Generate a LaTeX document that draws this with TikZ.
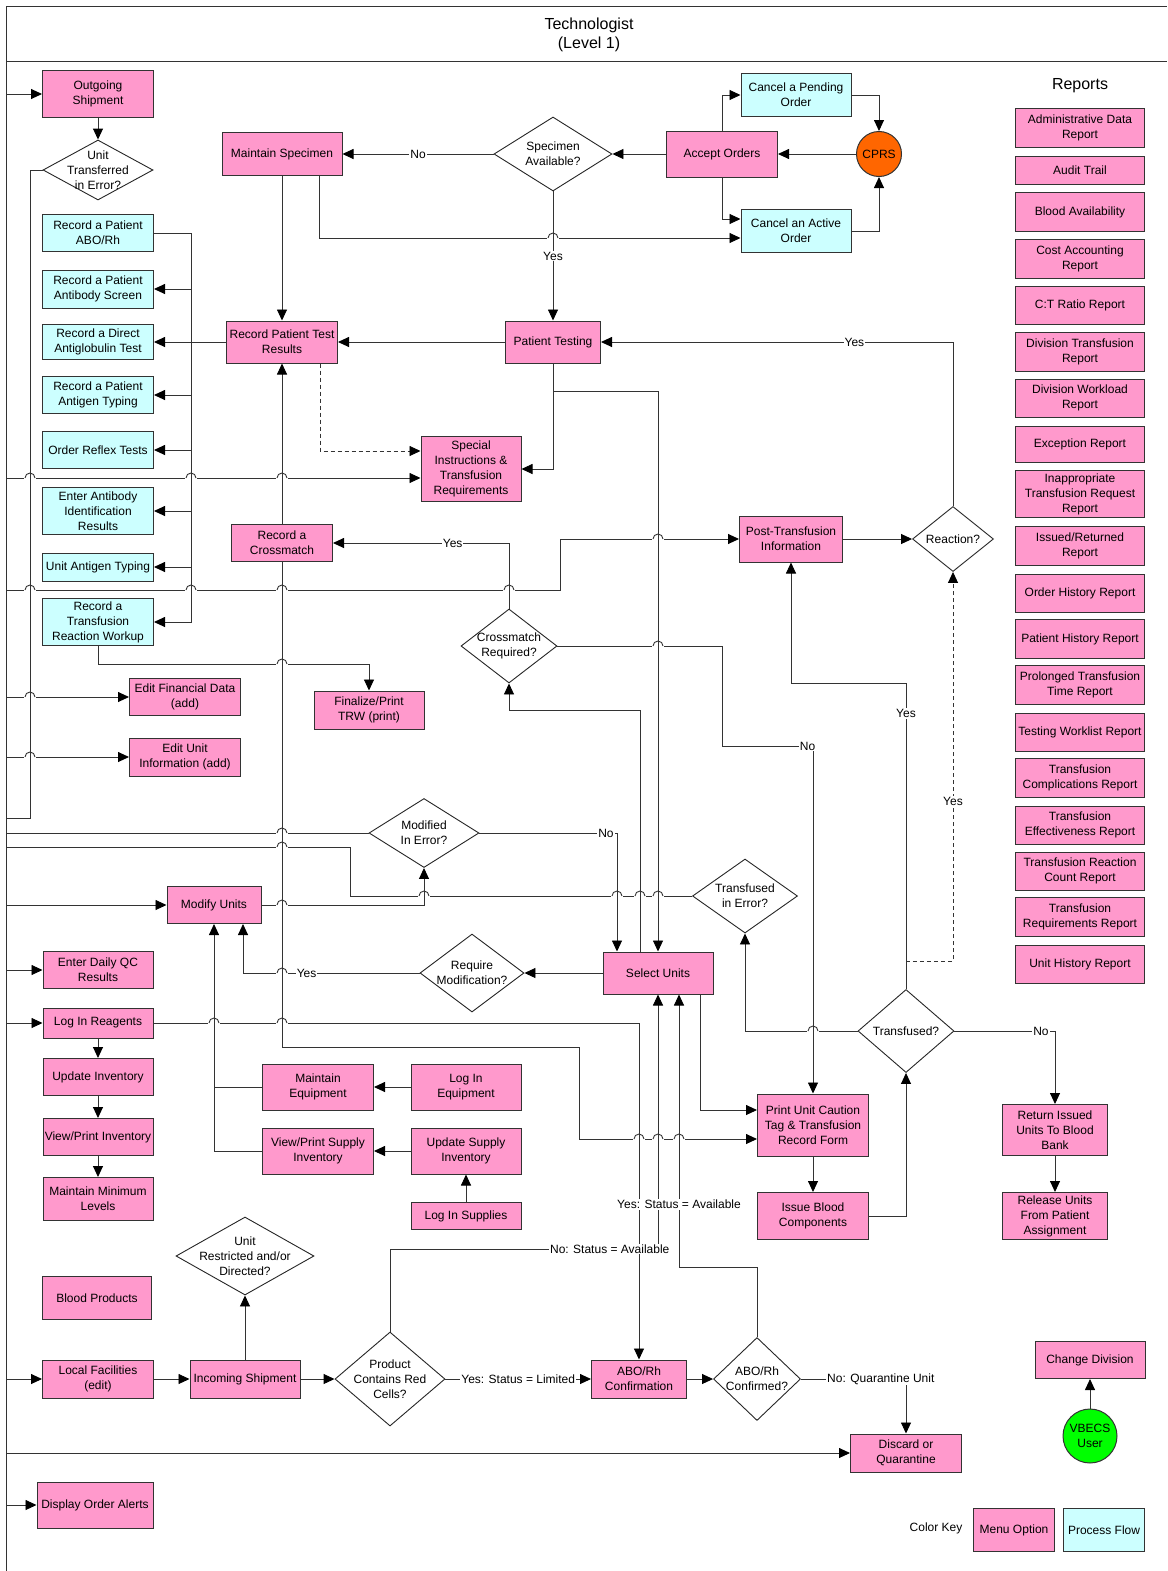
\documentclass[tikz,border=0pt]{standalone}
\usepackage{fontspec}
\setmainfont{Liberation Sans}
\usetikzlibrary{arrows.meta,shapes.geometric}
\definecolor{menupink}{HTML}{FF99CC}
\definecolor{flowcyan}{HTML}{CCFFFF}
\definecolor{cprsorange}{HTML}{FF6600}
\definecolor{usergreen}{HTML}{00FF00}
\newcommand\diagfont{\fontsize{12}{15}\selectfont}
\newcommand\headfont{\fontsize{16}{19}\selectfont}
\newcommand\hop[2]{%
  \fill[white] (#1-5.6,#2-1.3) rectangle (#1+5.6,#2+1.3);
  \draw[ln] (#1,#2-3) -- (#1,#2+3);
  \draw[ln] (#1-5,#2) arc[start angle=180,end angle=0,radius=5pt];}
\begin{document}
\begin{tikzpicture}[x=1pt,y=-1pt,font=\diagfont,
  menu/.style={draw=black!80,line width=1pt,fill=menupink,align=center,inner sep=1pt,minimum width=111,minimum height=38},
  flow/.style={menu,fill=flowcyan},
  rep/.style={menu,minimum width=129},
  dia/.style={diamond,draw=black!85,line width=.9pt,fill=white,inner sep=0pt},
  ln/.style={draw=black!80,line width=.9pt},
  arr/.style={ln,-{Triangle[length=11pt,width=10pt,color=black]}},
  lbl/.style={fill=white,inner sep=1pt}]
\useasboundingbox (0,0) rectangle (1167,1571);
\draw[ln] (6,1571) -- (6,6) -- (1167,6);
\draw[ln] (6,61) -- (1167,61);
\node[font=\headfont,align=center] (title) at (589,35) {Technologist\\(Level 1)};
\node[font=\headfont] (reports) at (1080,86) {Reports};

\node[menu,minimum height=46] (os) at (98,94) {Outgoing\\Shipment};
\node[dia,minimum width=110,minimum height=60,label={[align=center]center:Unit\\Transferred\\in Error?}] (ute) at (98,170) {};
\node[flow,minimum height=37] (rabo) at (98,233) {Record a Patient\\ABO/Rh};
\node[flow] (ras) at (98,289) {Record a Patient\\Antibody Screen};
\node[flow,minimum height=35] (rdat) at (98,342) {Record a Direct\\Antiglobulin Test};
\node[flow,minimum height=37] (rat) at (98,395) {Record a Patient\\Antigen Typing};
\node[flow,minimum height=37] (ort) at (98,450) {Order Reflex Tests};
\node[flow,minimum height=47] (eai) at (98,511) {Enter Antibody\\Identification\\Results};
\node[flow,minimum height=28] (uat) at (98,567) {Unit Antigen Typing};
\node[flow,minimum height=47] (trw) at (98,622) {Record a\\Transfusion\\Reaction Workup};

\node[menu,minimum width=120,minimum height=43] (ms) at (282,154) {Maintain Specimen};
\node[menu,minimum height=42] (rpt) at (282,342) {Record Patient Test\\Results};
\node[dia,minimum width=118,minimum height=74,label={[align=center]center:Specimen\\Available?}] (sa) at (553,154) {};
\node[menu,minimum height=46] (ao) at (722,154) {Accept Orders};
\node[flow,minimum width=110,minimum height=43] (cpo) at (796,95) {Cancel a Pending\\Order};
\node[flow,minimum width=110,minimum height=43] (cao) at (796,231) {Cancel an Active\\Order};
\node[circle,draw=black!80,line width=1pt,fill=cprsorange,minimum size=45,inner sep=0pt] (cprs) at (879,154) {CPRS};
\node[menu,minimum width=95,minimum height=42] (pt) at (553,342) {Patient Testing};
\node[menu,minimum width=100,minimum height=65] (si) at (471,469) {Special\\Instructions \&\\Transfusion\\Requirements};
\node[menu,minimum width=101,minimum height=37] (rxm) at (282,543) {Record a\\Crossmatch};
\node[menu,minimum width=103,minimum height=46] (pti) at (791,539) {Post-Transfusion\\Information};
\node[dia,minimum width=81,minimum height=65,label=center:Reaction?] (rea) at (953,539) {};
\node[dia,minimum width=96,minimum height=74,label={[align=center]center:Crossmatch\\Required?}] (xr) at (509,646) {};
\node[menu,minimum height=37] (efd) at (185,697) {Edit Financial Data\\(add)};
\node[menu,minimum height=38] (eui) at (185,757) {Edit Unit\\Information (add)};
\node[menu,minimum width=110,minimum height=38] (ftrw) at (369,710) {Finalize/Print\\TRW (print)};
\node[dia,minimum width=110,minimum height=69,label={[align=center]center:Modified\\In Error?}] (mie) at (424,833) {};
\node[dia,minimum width=105,minimum height=74,label={[align=center]center:Transfused\\in Error?}] (tie) at (745,896) {};
\node[menu,minimum width=94,minimum height=37] (mu) at (214,905) {Modify Units};
\node[dia,minimum width=104,minimum height=78,label={[align=center]center:Require\\Modification?}] (rm) at (472,973) {};
\node[menu,minimum width=110,minimum height=42] (su) at (658,973) {Select Units};

\node[menu,minimum width=110,minimum height=37] (qc) at (98,970) {Enter Daily QC\\Results};
\node[menu,minimum width=110,minimum height=30] (lir) at (98,1023) {Log In Reagents};
\node[menu,minimum width=110,minimum height=37] (ui) at (98,1077) {Update Inventory};
\node[menu,minimum width=110,minimum height=37] (vpi) at (98,1137) {View/Print Inventory};
\node[menu,minimum width=110,minimum height=43] (mml) at (98,1199) {Maintain Minimum\\Levels};
\node[menu,minimum height=46] (me) at (318,1087) {Maintain\\Equipment};
\node[menu,minimum height=46] (vpsi) at (318,1151) {View/Print Supply\\Inventory};
\node[menu,minimum width=110,minimum height=46] (lie) at (466,1087) {Log In\\Equipment};
\node[menu,minimum width=110,minimum height=46] (usi) at (466,1151) {Update Supply\\Inventory};
\node[menu,minimum width=110,minimum height=27] (lis) at (466,1216) {Log In Supplies};
\node[menu,minimum height=62] (puct) at (813,1125) {Print Unit Caution\\Tag \& Transfusion\\Record Form};
\node[menu,minimum height=47] (ibc) at (813,1216) {Issue Blood\\Components};
\node[dia,minimum width=96,minimum height=83,label=center:Transfused?] (tr) at (906,1031) {};
\node[menu,minimum width=105,minimum height=51] (rib) at (1055,1130) {Return Issued\\Units To Blood\\Bank};
\node[menu,minimum width=105,minimum height=47] (rup) at (1055,1216) {Release Units\\From Patient\\Assignment};

\node[dia,minimum width=138,minimum height=78,label={[align=center]center:Unit\\Restricted and/or\\Directed?}] (urd) at (245,1256) {};
\node[menu,minimum width=109,minimum height=43] (bp) at (97,1298) {Blood Products};
\node[menu,minimum height=38] (lf) at (98,1379) {Local Facilities\\(edit)};
\node[menu,minimum width=110,minimum height=38] (is) at (245,1379) {Incoming Shipment};
\node[dia,minimum width=110,minimum height=94,label={[align=center]center:Product\\Contains Red\\Cells?}] (pcr) at (390,1379) {};
\node[menu,minimum width=95,minimum height=38] (abc) at (639,1379) {ABO/Rh\\Confirmation};
\node[dia,minimum width=87,minimum height=83,label={[align=center]center:ABO/Rh\\Confirmed?}] (arq) at (757,1379) {};
\node[menu,minimum height=38] (dq) at (906,1453) {Discard or\\Quarantine};
\node[menu,minimum width=110,minimum height=37] (cd) at (1090,1360) {Change Division};
\node[circle,draw=black!80,line width=1pt,fill=usergreen,minimum size=54,inner sep=0pt,align=center] (vu) at (1090,1436) {VBECS\\User};
\node[menu,minimum width=116,minimum height=46] (doa) at (95,1505) {Display Order Alerts};
\node (ck) at (936,1528) {Color Key};
\node[menu,minimum width=81,minimum height=43] (mo) at (1014,1530) {Menu Option};
\node[flow,minimum width=81,minimum height=43] (pf) at (1104,1530) {Process Flow};

\foreach \yy/\hh/\txt [count=\i] in {127.5/39/{Administrative Data\\Report},170/28/{Audit Trail},212/39/{Blood Availability},
  259/39/{Cost Accounting\\Report},305/38/{C:T Ratio Report},352/39/{Division Transfusion\\Report},398/38/{Division Workload\\Report},
  444/36/{Exception Report},494/47/{Inappropriate\\Transfusion Request\\Report},546/39/{Issued/Returned\\Report},
  593/38/{Order History Report},639/39/{Patient History Report},685/39/{Prolonged Transfusion\\Time Report},
  732/38/{Testing Worklist Report},778/39/{Transfusion\\Complications Report},825/38/{Transfusion\\Effectiveness Report},
  871/38/{Transfusion Reaction\\Count Report},917/39/{Transfusion\\Requirements Report},964/38/{Unit History Report}}
  \node[rep,minimum height=\hh] (rep\i) at (1080,\yy) {\txt};

\foreach \yy in {94,478,590,697,757,818,833,847,905,970,1023,1379,1453,1505}
  \coordinate (f\yy) at (6,\yy);

\draw[arr] (f94) -- (os.west);
\draw[arr] (os.south) -- (ute.north);
\draw[ln] (ute.west) -| (30,818) -- (f818);
\draw[ln] (rpt.west) -- (rdat.east -| 191,0);
\draw[arr] (rabo.east) -| (191,622) -- (trw.east);
\foreach \n in {ras,rdat,rat,ort,eai,uat} \draw[arr] (\n.east -| 191,0) -- (\n.east);
\draw[arr] (ms.south) -- (rpt.north);
\draw[arr] (ms.south -| 319,0) |- (cao.west |- 0,238);
\draw[arr] (ao.west) -- (sa.east);
\draw[arr] (sa.west) -- node[lbl]{No} (ms.east);
\draw[arr] (sa.south) -- node[lbl]{Yes} (pt.north);
\draw[arr] (ao.north) |- (cpo.west);
\draw[arr] (ao.south) |- (cao.west |- 0,219);
\draw[arr] (cpo.east) -| (cprs.north);
\draw[arr] (cao.east) -| (cprs.south);
\draw[arr] (cprs.west) -- (ao.east);
\draw[arr] (pt.west) -- (rpt.east);
\draw[arr] (rea.north) |- node[lbl,pos=.64]{Yes} (pt.east);
\draw[arr] (pt.south) |- (si.east);
\draw[arr] (pt.south |- 0,391) -| (su.north);
\draw[arr,dash pattern=on 4pt off 3pt] (rpt.south -| 320,0) |- (si.west |- 0,451);
\draw[arr] (f478) -- (f478 -| si.west);
\draw[arr] (rxm.north) -- (rpt.south);
\draw[arr] (rxm.south) |- (579,1047) |- (puct.west |- 0,1139);
\draw[arr] (xr.north) |- node[lbl,pos=.66]{Yes} (rxm.east);
\draw[arr] (xr.east) -| (722,746) -| node[lbl,pos=.47]{No} (puct.north);
\draw[arr] (su.north -| 640,0) |- (xr.south |- 0,710) -- (xr.south);
\draw[arr] (f590) -| (560,539) -- (pti.west);
\draw[arr] (pti.east) -- (rea.west);
\draw[arr] (tr.north) |- node[lbl,pos=.45]{Yes} (pti.south |- 0,683) -- (pti.south);
\draw[arr,dash pattern=on 4pt off 3pt] (tr.north) |- (rea.south |- 0,961) -- node[lbl,pos=.41]{Yes} (rea.south);
\draw[arr] (f697) -- (efd.west);
\draw[arr] (f757) -- (eui.west);
\draw[arr] (trw.south) |- (ftrw.north |- 0,664) -- (ftrw.north);
\draw[ln] (f833) -- (mie.west);
\draw[ln] (f847) -| (350,896) -- (tie.west);
\draw[arr] (mu.east) -| (mie.south);
\draw[arr] (mie.east) -| node[lbl,pos=.46]{No} (su.north -| 617,0);
\draw[arr] (f905) -- (mu.west);
\draw[arr] (su.west) -- (rm.east);
\draw[arr] (rm.west) -| node[lbl,pos=.32]{Yes} (mu.south -| 243,0);
\draw[arr] (me.west) -| (mu.south);
\draw[ln] (vpsi.west) -| (mu.south |- me.west);
\draw[arr] (lie.west) -- (me.east);
\draw[arr] (usi.west) -- (vpsi.east);
\draw[arr] (lis.north) -- (usi.south);
\draw[arr] (f970) -- (qc.west);
\draw[arr] (f1023) -- (lir.west);
\draw[arr] (lir.east) -| (abc.north);
\draw[arr] (lir.south) -- (ui.north);
\draw[arr] (ui.south) -- (vpi.north);
\draw[arr] (vpi.south) -- (mml.north);
\draw[arr] (su.south -| 700,0) |- (puct.west |- 0,1110);
\draw[arr] (puct.south) -- (ibc.north);
\draw[arr] (ibc.east) -| (tr.south);
\draw[arr] (tr.west) -| (tie.south);
\draw[arr] (tr.east) -| node[lbl,pos=.43]{No} (rib.north);
\draw[arr] (rib.south) -- (rup.north);
\draw[arr] (pcr.north) |- node[lbl,pos=.91]{No: Status = Available} (su.south |- 0,1249) -- (su.south);
\draw[arr] (arq.north) |- (679,1267) -- node[lbl,pos=.23]{Yes: Status = Available} (su.south -| 679,0);
\draw[arr] (pcr.east) -- node[lbl]{Yes: Status = Limited} (abc.west);
\draw[arr] (abc.east) -- (arq.west);
\draw[arr] (arq.east) -| node[lbl,pos=.38]{No: Quarantine Unit} (dq.north);
\draw[arr] (f1379) -- (lf.west);
\draw[arr] (lf.east) -- (is.west);
\draw[arr] (is.east) -- (pcr.west);
\draw[arr] (is.north) -- (urd.south);
\draw[arr] (f1453) -- (dq.west);
\draw[arr] (f1505) -- (doa.west);
\draw[arr] (vu.north) -- (cd.south);

\foreach \hx/\hy in {30/478,191/478,282/478,30/590,191/590,282/590,509/590,658/539,30/697,30/757,282/664,553/238,
  658/646,282/833,282/847,424/896,617/896,640/896,658/896,282/905,282/973,214/1023,282/1023,639/1139,658/1139,679/1139,813/1031}
  {\hop{\hx}{\hy}}
\end{tikzpicture}
\end{document}
